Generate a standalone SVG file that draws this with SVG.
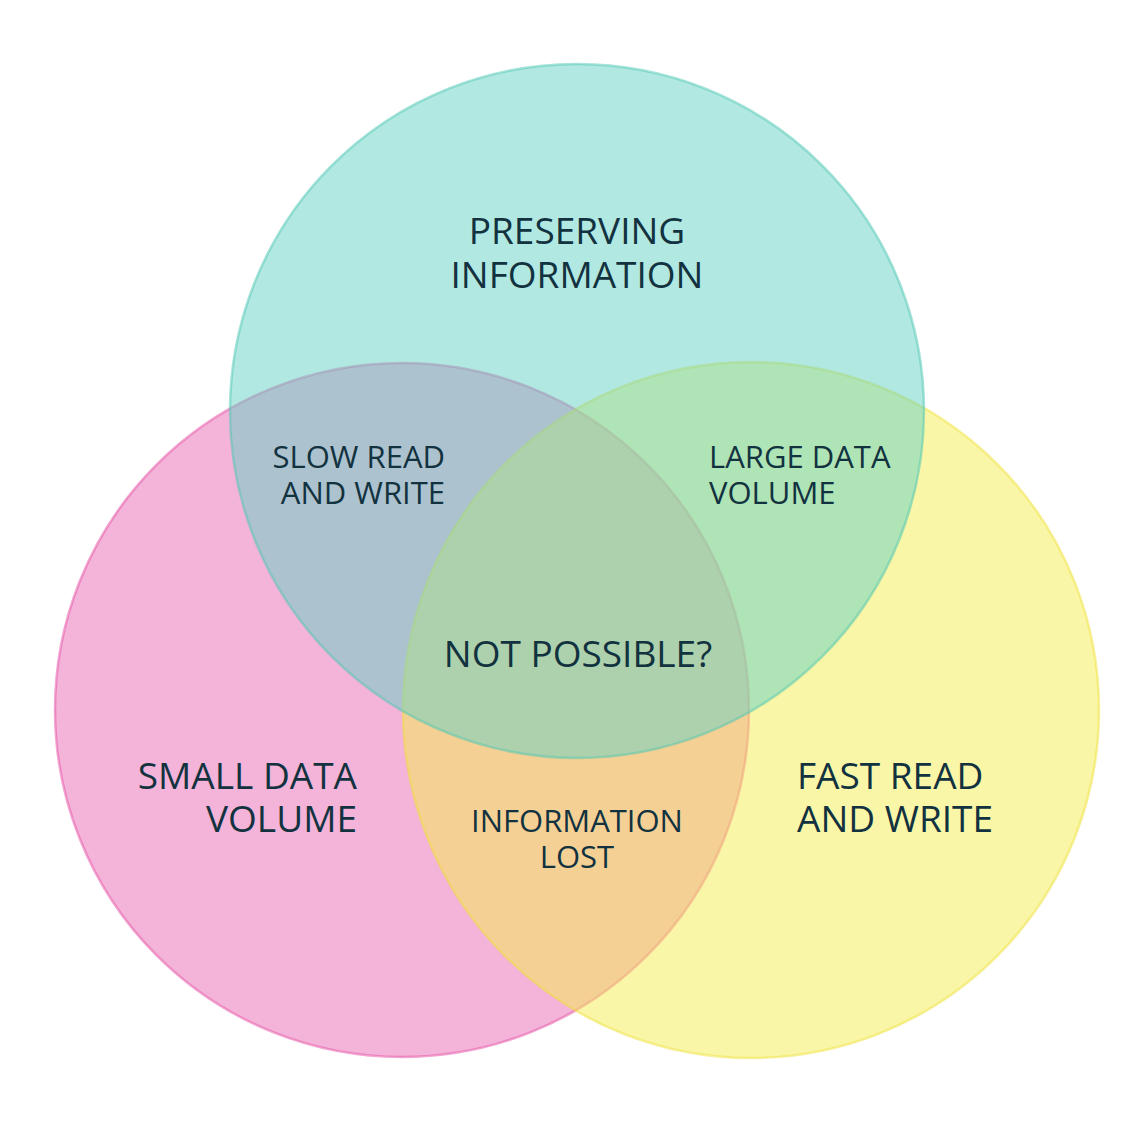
<svg xmlns="http://www.w3.org/2000/svg" width="1125" height="1125" viewBox="0 0 1125 1125">
<style>
.c{stroke-width:2.5}
.t{font-family:"Open Sans","Liberation Sans",sans-serif;fill:#12323f}
.big{font-size:37px}
.sm{font-size:31px}
</style>
<rect width="1125" height="1125" fill="#ffffff"/>
<g id="circle-small-data">
<circle class="c" cx="402" cy="710" r="347" fill="rgb(233,103,177)" fill-opacity="0.5" stroke="rgb(230,80,165)" stroke-opacity="0.5"/>
</g>
<g id="circle-fast-rw">
<circle class="c" cx="751" cy="710" r="348" fill="rgb(245,237,81)" fill-opacity="0.5" stroke="rgb(240,225,60)" stroke-opacity="0.5"/>
</g>
<g id="circle-preserving">
<circle class="c" cx="577" cy="411" r="347" fill="rgb(100,210,195)" fill-opacity="0.5" stroke="rgb(80,200,180)" stroke-opacity="0.5"/>
</g>
<g id="connectors"></g>
<g id="label-preserving"><text class="t big" text-anchor="middle" x="577" y="244">PRESERVING</text><text class="t big" text-anchor="middle" x="577" y="288">INFORMATION</text></g>
<g id="label-slow"><text class="t sm" text-anchor="end" x="445" y="468">SLOW READ</text><text class="t sm" text-anchor="end" x="445" y="504">AND WRITE</text></g>
<g id="label-large"><text class="t sm" x="709" y="468">LARGE DATA</text><text class="t sm" x="709" y="504">VOLUME</text></g>
<g id="label-center"><text class="t big" text-anchor="middle" x="578" y="667">NOT POSSIBLE?</text></g>
<g id="label-small"><text class="t big" text-anchor="end" x="357" y="789">SMALL DATA</text><text class="t big" text-anchor="end" x="357" y="832">VOLUME</text></g>
<g id="label-lost"><text class="t sm" text-anchor="middle" x="577" y="832">INFORMATION</text><text class="t sm" text-anchor="middle" x="577" y="868">LOST</text></g>
<g id="label-fast"><text class="t big" x="797" y="789">FAST READ</text><text class="t big" x="797" y="832">AND WRITE</text></g>
</svg>
